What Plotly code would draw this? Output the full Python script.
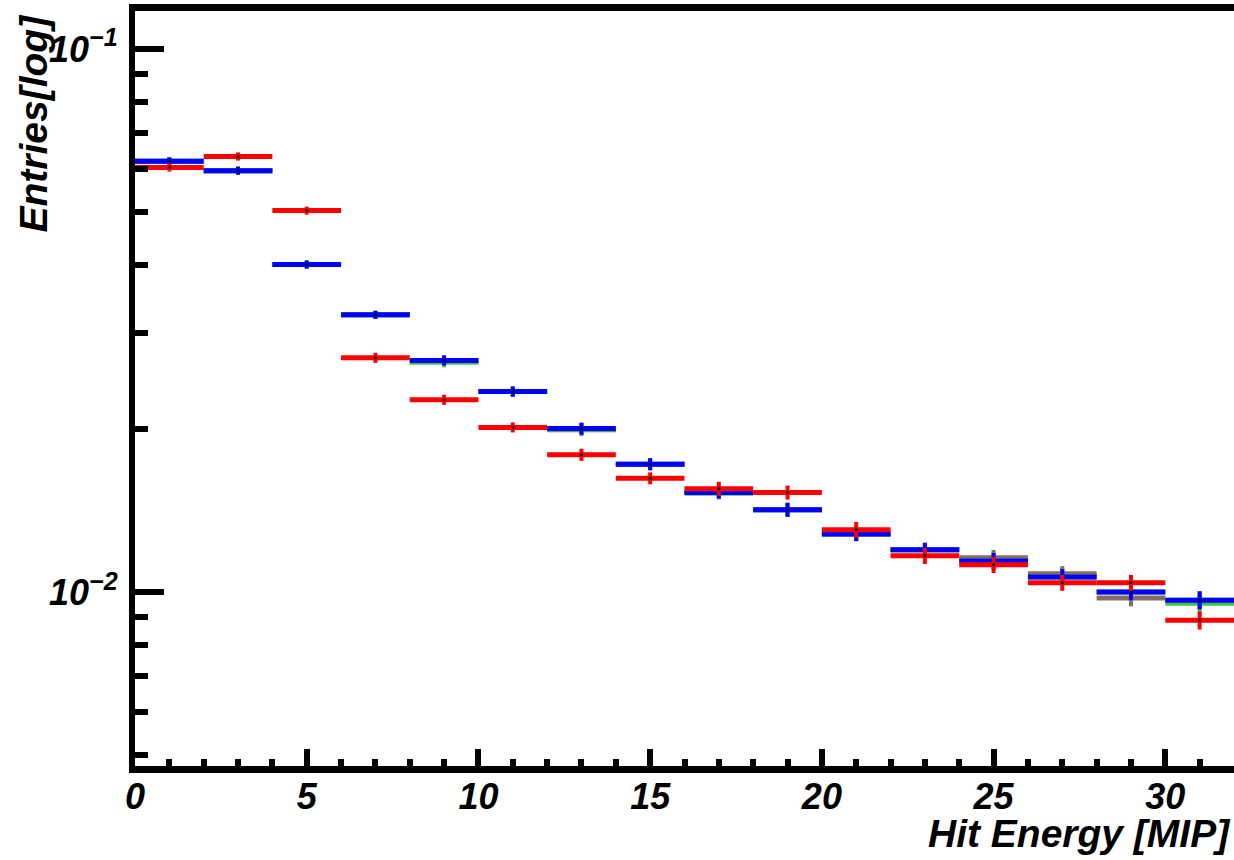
import plotly.graph_objects as go

# Bin centres (bins of width 2 MIP from 0 to 32)
bin_centers = [1, 3, 5, 7, 9, 11, 13, 15, 17, 19, 21, 23, 25, 27, 29, 31]
bin_halfwidth = 1

blue_vals = [0.0621, 0.0597, 0.0401, 0.0324, 0.0267, 0.0234, 0.0200, 0.0172,
             0.01525, 0.01418, 0.01279, 0.01196, 0.01141, 0.01066, 0.0100, 0.00966]
blue_errs = [0.00106, 0.00102, 0.00068, 0.00055, 0.00057, 0.0005, 0.00051, 0.00044,
             0.00039, 0.00042, 0.00038, 0.00036, 0.00039, 0.00036, 0.00034, 0.00037]

red_vals = [0.0605, 0.0634, 0.0504, 0.0270, 0.0226, 0.0201, 0.0179, 0.0162,
            0.0155, 0.01525, 0.01302, 0.01166, 0.01122, 0.0104, 0.0104, 0.00887]
red_errs = [0.00103, 0.00108, 0.00086, 0.00058, 0.00048, 0.00043, 0.00046, 0.00041,
            0.00046, 0.00045, 0.00044, 0.0004, 0.00038, 0.00035, 0.00035, 0.00034]

green_vals = [0.0621, 0.0597, 0.0401, 0.0324, 0.0265, 0.0234, 0.01995, 0.0172,
              0.0152, 0.01418, 0.01279, 0.01196, 0.01141, 0.01066, 0.0100, 0.00954]
green_errs = blue_errs

grey_vals = [0.0621, 0.0597, 0.0401, 0.0324, 0.0267, 0.0234, 0.0199, 0.0172,
             0.01525, 0.01418, 0.01279, 0.01196, 0.01156, 0.0108, 0.00975, 0.00966]
grey_errs = blue_errs

y_major_vals = [0.01, 0.1]
y_major_text = ["10<sup>\u22122</sup>", "10<sup>\u22121</sup>"]
y_minor_vals = [0.005, 0.006, 0.007, 0.008, 0.009,
                0.02, 0.03, 0.04, 0.05, 0.06, 0.07, 0.08, 0.09]

series = [
    ("grey", grey_vals, grey_errs, "rgb(135,108,98)"),
    ("green", green_vals, green_errs, "rgb(60,200,60)"),
    ("blue", blue_vals, blue_errs, "rgb(0,0,255)"),
    ("red", red_vals, red_errs, "rgb(255,0,0)"),
]

FONT = "Liberation Sans, Arial, Helvetica, sans-serif"

fig = go.Figure()
for name, vals, errs, col in series:
    fig.add_trace(go.Scatter(
        x=bin_centers, y=vals, name=name, mode="markers",
        marker=dict(color="black", size=3, line=dict(width=0)),
        error_x=dict(type="constant", value=bin_halfwidth, color=col,
                     thickness=5, width=0),
        error_y=dict(type="data", array=errs, color=col, thickness=4, width=0),
        showlegend=False,
    ))

fig.update_layout(
    width=1234, height=860,
    margin=dict(l=135, r=0, t=11, b=94, pad=0),
    paper_bgcolor="white", plot_bgcolor="white",
    showlegend=False,
    font=dict(family=FONT, color="black"),
)

fig.update_xaxes(
    range=[0, 32], showgrid=False, zeroline=False,
    showline=True, linewidth=7, linecolor="black", mirror=True,
    ticks="inside", ticklen=17, tickwidth=6, tickcolor="black",
    tick0=0, dtick=5,
    minor=dict(ticks="inside", ticklen=7, tickwidth=6, tickcolor="black", dtick=1, tick0=0),
    tickfont=dict(family=FONT, size=36, color="black", weight="bold", style="italic"),
    ticklabelstandoff=-7,
)

fig.update_yaxes(
    type="log", range=[-2.3204, -0.930], showgrid=False, zeroline=False,
    showline=True, linewidth=6, linecolor="black",
    ticks="inside", ticklen=29, tickwidth=6, tickcolor="black",
    tickmode="array", tickvals=y_major_vals, ticktext=y_major_text,
    minor=dict(ticks="inside", ticklen=13, tickwidth=6, tickcolor="black",
               tickmode="array", tickvals=y_minor_vals),
    tickfont=dict(family=FONT, size=36, color="black", weight="bold", style="italic"),
    ticklabelstandoff=4,
)

fig.add_annotation(
    text="Hit Energy [MIP]", xref="paper", yref="paper",
    x=(1233 - 135) / 1099, y=(766 - 857) / 755,
    xanchor="right", yanchor="bottom", showarrow=False,
    font=dict(family=FONT, size=39, color="black", weight="bold", style="italic"),
)
fig.add_annotation(
    text="Entries[log]", xref="paper", yref="paper",
    x=(33 - 135) / 1099, y=(766 - 12) / 755,
    xanchor="center", yanchor="top", textangle=-90, showarrow=False,
    font=dict(family=FONT, size=39, color="black", weight="bold", style="italic"),
)

fig.write_html("out.html", config={"displayModeBar": False},
               post_script="document.body.style.margin='0';document.body.style.padding='0';")
